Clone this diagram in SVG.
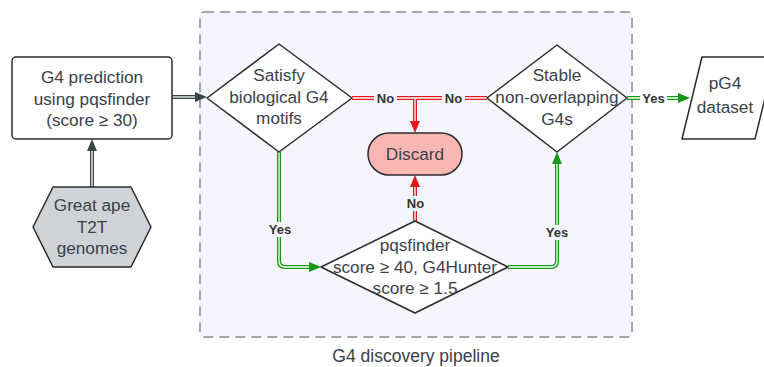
<svg xmlns="http://www.w3.org/2000/svg" width="764" height="367" viewBox="0 0 764 367">
<defs>
<style>
text{font-family:"Liberation Sans",Arial,sans-serif;fill:#3a414a}
.t{font-size:17.2px;text-anchor:middle}
.lbl{font-size:13px;font-weight:bold;text-anchor:middle;fill:#333}
.node{stroke:#2b2b2b;stroke-width:1.5;stroke-linejoin:round}
.red{fill:none;stroke:#e8161b;stroke-width:4}
.grn{fill:none;stroke:#139a13;stroke-width:4}
.drk{fill:none;stroke:#3a4449;stroke-width:4}
.in{fill:none;stroke:#fff;stroke-width:1.3}
</style>
<marker id="ar" markerUnits="userSpaceOnUse" markerWidth="12" markerHeight="10" refX="0" refY="5" orient="auto"><path d="M0,0 L12,5 L0,10 z" fill="#e8161b"/></marker>
<marker id="ag" markerUnits="userSpaceOnUse" markerWidth="12" markerHeight="10" refX="0" refY="5" orient="auto"><path d="M0,0 L12,5 L0,10 z" fill="#139a13"/></marker>
<marker id="ad" markerUnits="userSpaceOnUse" markerWidth="12" markerHeight="10" refX="0" refY="5" orient="auto"><path d="M0,0 L12,5 L0,10 z" fill="#3a4449"/></marker>
</defs>
<rect width="764" height="367" fill="#fff"/>
<g id="container">
<rect x="200" y="12" width="432" height="325" rx="4" fill="#f4f5fd" stroke="#8a8a8e" stroke-width="1.5" stroke-dasharray="10,6"/>
<text class="t" x="416" y="362" style="font-size:17.5px">G4 discovery pipeline</text>
</g>
<g id="connectors">
<path class="drk" d="M92,187 V151" marker-end="url(#ad)"/><path class="in" d="M92,187 V151"/>
<path class="drk" d="M172,97 H195" marker-end="url(#ad)"/><path class="in" d="M172,97 H195"/>
<path class="red" d="M352,98 H415 V121" marker-end="url(#ar)"/>
<path class="red" d="M487,98 H415 V121"/>
<path class="in" d="M352,98 H487 M415,98 V121"/>
<path class="red" d="M415,221 V187" marker-end="url(#ar)"/><path class="in" d="M415,221 V187"/>
<path class="grn" d="M279,152 V261 Q279,267 285,267 H309" marker-end="url(#ag)"/><path class="in" d="M279,152 V261 Q279,267 285,267 H309"/>
<path class="grn" d="M508,267 H551 Q557,267 557,261 V164" marker-end="url(#ag)"/><path class="in" d="M508,267 H551 Q557,267 557,261 V164"/>
<path class="grn" d="M627,98 H678" marker-end="url(#ag)"/><path class="in" d="M627,98 H678"/>
<rect x="374" y="91" width="23" height="15" fill="#f4f5fd"/><text class="lbl" x="385.5" y="103">No</text>
<rect x="442" y="91" width="23" height="15" fill="#f4f5fd"/><text class="lbl" x="453.5" y="103">No</text>
<rect x="404" y="196" width="23" height="15" fill="#f4f5fd"/><text class="lbl" x="415.5" y="208">No</text>
<rect x="266" y="222" width="28" height="15" fill="#f4f5fd"/><text class="lbl" x="280" y="234">Yes</text>
<rect x="543" y="225" width="28" height="15" fill="#f4f5fd"/><text class="lbl" x="557" y="237">Yes</text>
<rect x="640" y="91" width="27" height="15" fill="#fff"/><text class="lbl" x="653.5" y="103">Yes</text>
</g>
<g id="predict">
<rect class="node" x="12" y="57" width="160" height="82" rx="4" fill="#fff"/>
<text class="t" x="92" y="83">G4 prediction</text>
<text class="t" x="92" y="104.5">using pqsfinder</text>
<text class="t" x="92" y="126">(score ≥ 30)</text>
</g>
<g id="genomes">
<path class="node" d="M33,227 L53,187 H131 L151,227 L131,267 H53 Z" fill="#cfd3d7"/>
<text class="t" x="92" y="211">Great ape</text>
<text class="t" x="92" y="233">T2T</text>
<text class="t" x="92" y="254">genomes</text>
</g>
<g id="motifs">
<path class="node" d="M207,98 L279,44 L352,98 L279,152 Z" fill="#fff"/>
<text class="t" x="279" y="81">Satisfy</text>
<text class="t" x="279" y="102.5">biological G4</text>
<text class="t" x="279" y="124">motifs</text>
</g>
<g id="stable">
<path class="node" d="M487,98 L557,45 L627,98 L557,152 Z" fill="#fff"/>
<text class="t" x="557" y="81">Stable</text>
<text class="t" x="557" y="103">non-overlapping</text>
<text class="t" x="557" y="124.5">G4s</text>
</g>
<g id="discard">
<rect class="node" x="368" y="133" width="94" height="42" rx="21" fill="#f9b7b4"/>
<text class="t" x="415" y="160">Discard</text>
</g>
<g id="scores">
<path class="node" d="M321,267 L415,221 L508,267 L415,313 Z" fill="#fff"/>
<text class="t" x="415" y="251">pqsfinder</text>
<text class="t" x="415" y="272.5">score ≥ 40, G4Hunter</text>
<text class="t" x="415" y="294">score ≥ 1.5</text>
</g>
<g id="dataset">
<path class="node" d="M702,57 H775 L755,139 H682 Z" fill="#fff"/>
<text class="t" x="725" y="89">pG4</text>
<text class="t" x="725" y="113">dataset</text>
</g>
</svg>
